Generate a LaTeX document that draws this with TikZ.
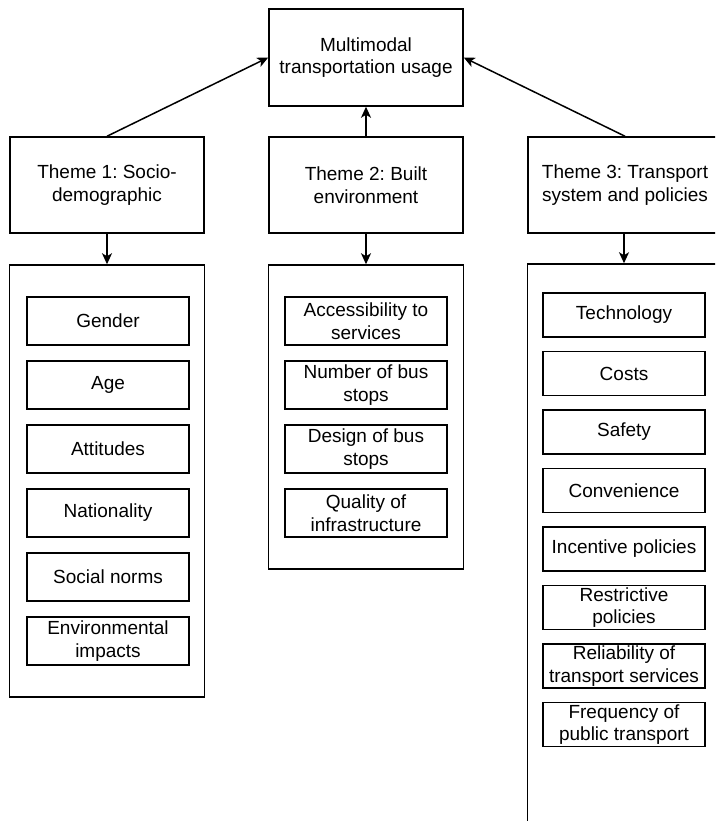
\documentclass[tikz,border=0pt]{standalone}
\usepackage{fontspec}
\setmainfont{Liberation Sans}
\usetikzlibrary{arrows.meta}
\begin{document}
\frenchspacing
\begin{tikzpicture}[x=1pt,y=-1pt,
  box/.style={draw=black,line width=1.5pt,inner sep=0pt,align=center,font=\fontsize{19}{22.5}\selectfont\frenchspacing},
  bigbox/.style={box,minimum width=194pt,minimum height=96pt},
  frame/.style={draw=black,line width=1.5pt,inner sep=0pt,minimum width=195pt},
  item/.style={box,minimum width=162pt,minimum height=48pt},
  itemb/.style={box,minimum width=162pt,minimum height=44pt},
  arr/.style={line width=1.5pt,-{Stealth[length=11pt,width=10pt,inset=3pt]}}
]
\clip (0,0) rectangle (715,821);
\fill[white] (0,0) rectangle (715,821);

\node[bigbox,minimum height=97pt] (top) at (366,57.5) {Multimodal\\transportation usage};
\node[bigbox] (t1) at (107,185) {Theme 1: Socio-\\demographic};
\node[bigbox] (t2) at (366,185) {Theme 2: Built\\environment};
\node[bigbox] (t3) at (625,185) {Theme 3: Transport\\system and policies};

\node[frame,minimum height=432pt] (c1) at (107,481) {};
\node[frame,minimum height=304pt] (c2) at (366,417) {};
\node[frame,minimum height=632pt] (c3) at (625,580) {};

\draw[arr] (t1.north) -- (top.west);
\draw[arr] (t2.north) -- (top.south);
\draw[arr] (t3.north) -- (top.east);
\draw[arr] (t1.south) -- (c1.north);
\draw[arr] (t2.south) -- (c2.north);
\draw[arr] (t3.south -| 624,0) -- (c3.north -| 624,0);

\node[item] (g) at (108,321) {Gender};
\node[item] (a) at (108,385) {Age};
\node[item] (at) at (108,449) {Attitudes};
\node[item] (n) at (108,513) {Nationality};
\node[item] (s) at (108,577) {Social norms};
\node[item] (e) at (108,641) {Environmental\\impacts};

\node[item] (b1) at (366,321) {Accessibility to\\services};
\node[item] (b2) at (366,385) {Number of bus\\stops};
\node[item] (b3) at (366,449) {Design of bus\\stops};
\node[item] (b4) at (366,513) {Quality of\\infrastructure};

\node[itemb] (p1) at (624,315) {Technology};
\node[itemb] (p2) at (624,373.5) {Costs};
\node[itemb] (p3) at (624,432) {Safety};
\node[itemb] (p4) at (624,490.5) {Convenience};
\node[itemb] (p5) at (624,549) {Incentive policies};
\node[itemb] (p6) at (624,607.5) {Restrictive\\policies};
\node[itemb] (p7) at (624,666) {Reliability of\\transport services};
\node[itemb] (p8) at (624,724.5) {Frequency of\\public transport};
\end{tikzpicture}
\end{document}
